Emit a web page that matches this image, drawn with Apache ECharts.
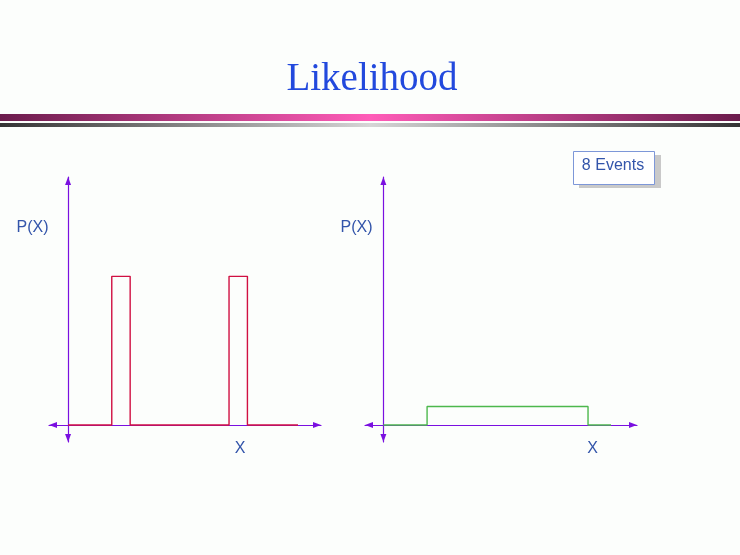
<!DOCTYPE html>
<html>
<head>
<meta charset="utf-8">
<script src="https://cdn.jsdelivr.net/npm/echarts@6/dist/echarts.min.js"></script>
<style>
html,body{margin:0;padding:0;background:#fcfefc;}
#chart{width:740px;height:555px;}
</style>
</head>
<body>
<div id="chart"></div>
<script>
// ---- data ----
const titleText = 'Likelihood';
const boxLabel = '8 Events';
const yLabel = 'P(X)';
const xLabel = 'X';
// left panel: two narrow bins (start, end, height), baseline end
const leftBinStarts = [1.9, 7.0];
const leftBinEnds = [2.7, 7.8];
const leftBinHeights = [1, 1];
const leftBaselineEnd = 10;
// right panel: one wide low bin
const rightBinStarts = [1.9];
const rightBinEnds = [8.9];
const rightBinHeights = [0.125];
const rightBaselineEnd = 9.9;

function outline(starts, ends, heights, endX) {
  const pts = [[0, 0]];
  for (let i = 0; i < starts.length; i++) {
    pts.push([starts[i], 0], [starts[i], heights[i]], [ends[i], heights[i]], [ends[i], 0]);
  }
  pts.push([endX, 0]);
  return pts;
}

const purple = '#7a10e0';
const textBlue = '#3355aa';

const axisCommon = {
  axisTick: {show: false},
  axisLabel: {show: false},
  splitLine: {show: false},
  axisLine: {
    show: true, onZero: true,
    symbol: ['triangle', 'triangle'],
    symbolSize: [6, 8],
    symbolOffset: [4, -4],
    lineStyle: {color: purple, width: 1.2}
  }
};

const chart = echarts.init(document.getElementById('chart'));
chart.setOption({
  backgroundColor: '#fcfefc',
  animation: false,
  grid: [
    {left: 49, top: 177, width: 272, height: 265, outerBoundsMode: 'none'},
    {left: 365, top: 177, width: 272, height: 265, outerBoundsMode: 'none'}
  ],
  xAxis: [
    Object.assign({type: 'value', gridIndex: 0, min: -0.83, max: 11.0}, axisCommon),
    Object.assign({type: 'value', gridIndex: 1, min: -0.8, max: 11.03}, axisCommon)
  ],
  yAxis: [
    Object.assign({type: 'value', gridIndex: 0, min: -0.114, max: 1.668}, axisCommon),
    Object.assign({type: 'value', gridIndex: 1, min: -0.114, max: 1.668}, axisCommon)
  ],
  series: [
    {
      type: 'line', xAxisIndex: 0, yAxisIndex: 0, showSymbol: false, z: 5,
      lineStyle: {color: '#d01042', width: 1.4},
      data: outline(leftBinStarts, leftBinEnds, leftBinHeights, leftBaselineEnd)
    },
    {
      type: 'line', xAxisIndex: 1, yAxisIndex: 1, showSymbol: false, z: 5,
      lineStyle: {color: '#4cb84c', width: 1.4},
      data: outline(rightBinStarts, rightBinEnds, rightBinHeights, rightBaselineEnd)
    }
  ],
  graphic: [
    {type: 'text', x: 372, y: 80, style: {text: titleText, fill: '#2249dd', font: '39px "Liberation Serif"', textAlign: 'center', textVerticalAlign: 'middle'}},
    {type: 'rect', shape: {x: 0, y: 114, width: 740, height: 7},
      style: {fill: new echarts.graphic.LinearGradient(0, 0, 1, 0, [
        {offset: 0, color: '#6b1c4c'}, {offset: 0.5, color: '#ff5cb8'}, {offset: 1, color: '#6b1c4c'}])}},
    {type: 'rect', shape: {x: 0, y: 123, width: 740, height: 4},
      style: {fill: new echarts.graphic.LinearGradient(0, 0, 1, 0, [
        {offset: 0, color: '#343434'}, {offset: 0.5, color: '#d6d6d6'}, {offset: 1, color: '#343434'}])}},
    {type: 'rect', shape: {x: 579, y: 155, width: 82, height: 33}, style: {fill: '#c9c9c9'}},
    {type: 'rect', shape: {x: 573.5, y: 151.5, width: 81, height: 33}, style: {fill: '#ffffff', stroke: '#7d97d8', lineWidth: 1}},
    {type: 'text', x: 613, y: 165.5, style: {text: boxLabel, fill: textBlue, font: '16px "Liberation Sans"', textAlign: 'center', textVerticalAlign: 'middle'}},
    {type: 'text', x: 32.5, y: 228, style: {text: yLabel, fill: textBlue, font: '16px "Liberation Sans"', textAlign: 'center', textVerticalAlign: 'middle'}},
    {type: 'text', x: 356.5, y: 228, style: {text: yLabel, fill: textBlue, font: '16px "Liberation Sans"', textAlign: 'center', textVerticalAlign: 'middle'}},
    {type: 'text', x: 240, y: 449, style: {text: xLabel, fill: textBlue, font: '16px "Liberation Sans"', textAlign: 'center', textVerticalAlign: 'middle'}},
    {type: 'text', x: 592.5, y: 449, style: {text: xLabel, fill: textBlue, font: '16px "Liberation Sans"', textAlign: 'center', textVerticalAlign: 'middle'}}
  ]
});
</script>
</body>
</html>
